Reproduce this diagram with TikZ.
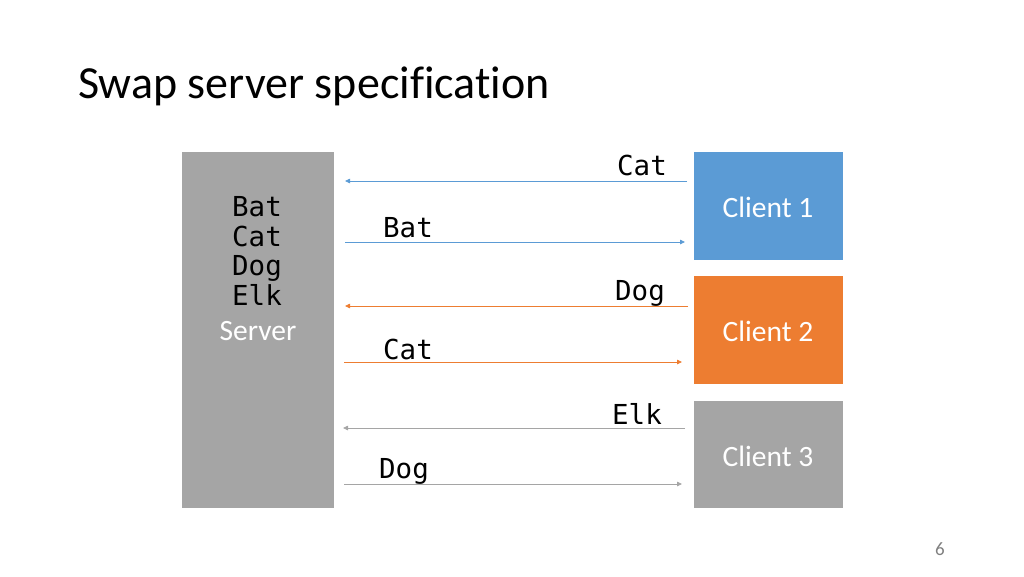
\documentclass[tikz,border=0pt]{standalone}
\usepackage{fontspec}
\setmainfont{Carlito}[Ligatures={NoCommon}]
\newfontfamily\monof{DejaVu Sans Mono}
\usetikzlibrary{arrows.meta}
\definecolor{cblue}{HTML}{5B9BD5}
\definecolor{corange}{HTML}{ED7D31}
\definecolor{cgray}{HTML}{A5A5A5}
\begin{document}
\begin{tikzpicture}[x=1pt,y=-1pt,
  box/.style={draw=none,inner sep=0pt,anchor=north west},
  ctext/.style={text=white,font=\fontsize{29.5}{34}\selectfont,inner sep=0pt},
  mtext/.style={font=\monof\fontsize{27.5}{29.5}\selectfont,inner sep=0pt},
  msg/.style={line width=0.8pt,-{Triangle[length=5pt,width=4.5pt]}},
  ]
\useasboundingbox (0,0) rectangle (1024,576);
\node[anchor=west,inner sep=0pt,font=\fontsize{46}{52}\selectfont] (title) at (78,86) {Swap server specification};
% boxes
\node[box,fill=cgray,minimum width=152pt,minimum height=356pt] (server) at (182,152) {};
\node[box,fill=cblue,minimum width=149pt,minimum height=108pt] (c1) at (694,152) {};
\node[box,fill=corange,minimum width=149pt,minimum height=108pt] (c2) at (694,276) {};
\node[box,fill=cgray,minimum width=149pt,minimum height=107pt] (c3) at (694,401) {};
\node[ctext] (c1t) at (768,207) {Client 1};
\node[ctext] (c2t) at (768,331) {Client 2};
\node[ctext] (c3t) at (768,456) {Client 3};
% server content
\node[mtext,align=center] (list) at (257,251) {Bat\\Cat\\Dog\\Elk};
\node[ctext] (st) at (258,331) {Server};
% arrow endpoints
\coordinate (a1s) at (687,181); \coordinate (a1e) at (345,181);
\coordinate (a2s) at (345,242); \coordinate (a2e) at (685,242);
\coordinate (a3s) at (688,306); \coordinate (a3e) at (345,306);
\coordinate (a4s) at (344,362); \coordinate (a4e) at (682,362);
\coordinate (a5s) at (685,428); \coordinate (a5e) at (343,428);
\coordinate (a6s) at (344,484); \coordinate (a6e) at (682,484);
\draw[msg,cblue] (a1s) -- (a1e);
\draw[msg,cblue] (a2s) -- (a2e);
\draw[msg,corange] (a3s) -- (a3e);
\draw[msg,corange] (a4s) -- (a4e);
\draw[msg,cgray] (a5s) -- (a5e);
\draw[msg,cgray] (a6s) -- (a6e);
% labels
\node[mtext] (l1) at (642,165) {Cat};
\node[mtext] (l2) at (408,228) {Bat};
\node[mtext] (l3) at (640,293) {Dog};
\node[mtext] (l4) at (408,349) {Cat};
\node[mtext] (l5) at (637,414) {Elk};
\node[mtext] (l6) at (404,471) {Dog};
\node[text=gray,font=\fontsize{19}{22}\selectfont] (pg) at (940,549) {6};
\end{tikzpicture}
\end{document}
